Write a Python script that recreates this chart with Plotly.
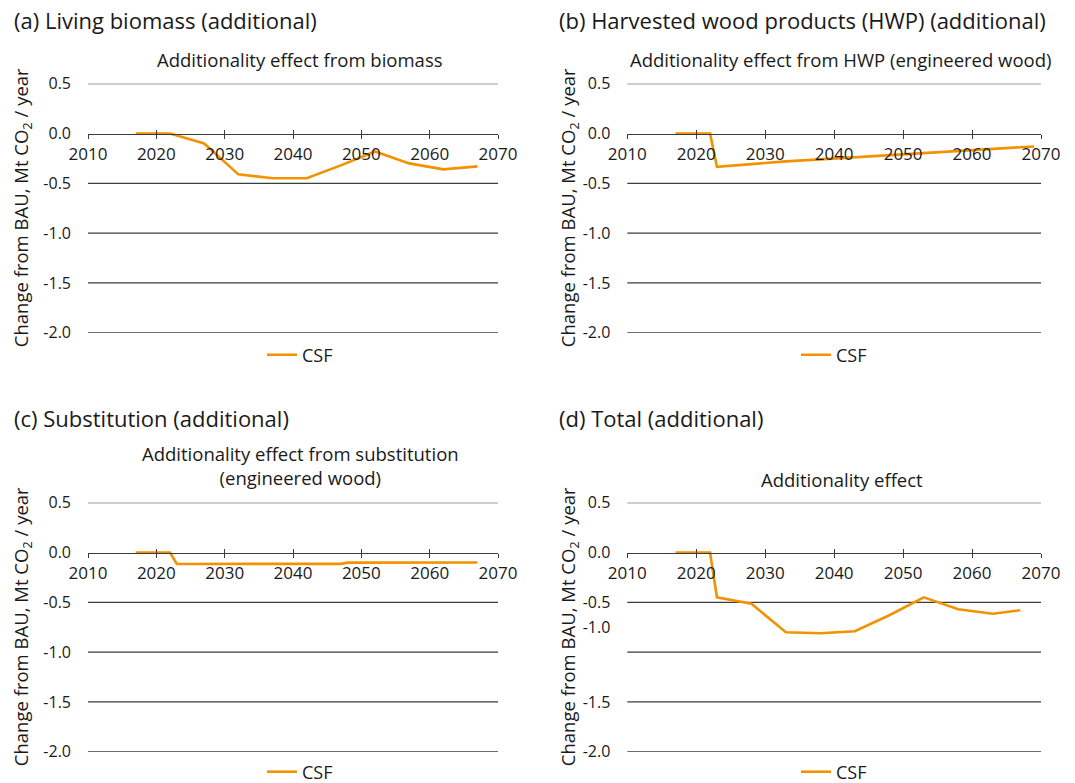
import plotly.graph_objects as go

W, H = 1075, 783

# ---------------- data ----------------
years_a = [2017, 2022, 2027, 2032, 2037, 2042, 2047, 2052, 2057, 2062, 2067]
vals_a = [0.0, 0.0, -0.10, -0.41, -0.45, -0.45, -0.32, -0.18, -0.30, -0.36, -0.33]

years_b = [2017, 2022, 2023, 2028, 2033, 2038, 2043, 2048, 2053, 2058, 2063, 2069]
vals_b = [0.0, 0.0, -0.335, -0.305, -0.28, -0.26, -0.24, -0.22, -0.195, -0.175, -0.155, -0.13]

years_c = [2017, 2022, 2023, 2028, 2033, 2038, 2043, 2047, 2048, 2053, 2058, 2063, 2067]
vals_c = [0.0, 0.0, -0.115, -0.115, -0.115, -0.115, -0.115, -0.114, -0.102, -0.10, -0.10, -0.10, -0.10]

years_d = [2017, 2022, 2023, 2028, 2033, 2038, 2043, 2048, 2053, 2058, 2063, 2067]
vals_d = [0.0, 0.0, -0.45, -0.515, -0.80, -0.81, -0.79, -0.63, -0.45, -0.57, -0.615, -0.58]

x_ticks = [2010, 2020, 2030, 2040, 2050, 2060, 2070]
grid_vals = [0.5, 0.0, -0.5, -1.0, -1.5, -2.0]
y_tick_vals = [0.5, 0.0, -0.5, -1.0, -1.5, -2.0]
y_tick_text = ["0.5", "0.0", "-0.5", "-1.0", "-1.5", "-2.0"]
# panel (d) of the source shows its "-1.0" label half-way between gridlines
y_tick_vals_d = [0.5, 0.0, -0.5, -0.75, -1.5, -2.0]

panel_labels = ["(a) Living biomass (additional)",
                "(b) Harvested wood products (HWP) (additional)",
                "(c) Substitution (additional)",
                "(d) Total (additional)"]
panel_titles = ["Additionality effect from biomass",
                "Additionality effect from HWP (engineered wood)",
                "Additionality effect from substitution<br>(engineered wood)",
                "Additionality effect"]
series_name = "CSF"
y_title = "Change from BAU, Mt CO<sub>2</sub> / year"

# ---------------- style / layout ----------------
FONT = "'Open Sans', Lato, sans-serif"
TXT = "#1a1a1a"
ORANGE = "#F39200"
GRID = "#3c3c3c"
YR = [-2.0, 0.5]
XR = [2010, 2070]

xdoms = [[88 / W, 498 / W], [627.3 / W, 1041 / W]] * 2
ydoms = [[1 - 332.7 / H, 1 - 83.7 / H]] * 2 + [[1 - 751.7 / H, 1 - 502.7 / H]] * 2

data_x = [years_a, years_b, years_c, years_d]
data_y = [vals_a, vals_b, vals_c, vals_d]

label_pos = [(12, 20), (557, 20), (12, 418), (557, 418)]
title_pos = [(300, 60), (841, 60), (300, 466), (842, 479)]
ytitle_x = [22, 569, 22, 569]
legend_pos = [(300, 355), (834, 355), (300, 772), (834, 772)]

fig = go.Figure()
layout = dict(
    width=W, height=H,
    margin=dict(l=0, r=0, t=0, b=0, autoexpand=False),
    paper_bgcolor="white", plot_bgcolor="white",
    font=dict(family=FONT, color=TXT, size=16),
    showlegend=True,
)
annotations = []
shapes = []

for i in range(4):
    k = i + 1
    sfx = "" if k == 1 else str(k)
    ov = str(k + 4)
    zero_pos = ydoms[i][0] + (0 - YR[0]) / (YR[1] - YR[0]) * (ydoms[i][1] - ydoms[i][0])

    fig.add_trace(go.Scatter(
        x=data_x[i], y=data_y[i], mode="lines", name=series_name,
        line=dict(color=ORANGE, width=2.6),
        xaxis="x" + sfx, yaxis="y" + sfx,
        legend="legend" + sfx, showlegend=True,
    ))
    # dummy trace for the overlay axis carrying the inward half of the ticks
    fig.add_trace(go.Scatter(
        x=[None], y=[None], mode="lines", showlegend=False, hoverinfo="skip",
        xaxis="x" + ov, yaxis="y" + sfx,
    ))

    layout["xaxis" + sfx] = dict(
        domain=xdoms[i], range=XR, anchor="free", position=zero_pos,
        tickmode="array", tickvals=x_ticks,
        showline=True, linecolor=GRID, linewidth=1,
        ticks="outside", ticklen=4, tickcolor=GRID, tickwidth=1,
        showgrid=False, zeroline=False,
        tickfont=dict(size=17, color=TXT), ticklabelstandoff=1,
        fixedrange=True,
    )
    layout["xaxis" + ov] = dict(
        overlaying="x" + sfx, range=XR, anchor="free", position=zero_pos,
        tickmode="array", tickvals=x_ticks,
        showline=False, ticks="inside", ticklen=4, tickcolor=GRID, tickwidth=1,
        showticklabels=False, showgrid=False, zeroline=False, fixedrange=True,
    )
    layout["yaxis" + sfx] = dict(
        domain=ydoms[i], range=YR, anchor="x" + sfx,
        tickmode="array",
        tickvals=y_tick_vals_d if k == 4 else y_tick_vals,
        ticktext=y_tick_text,
        showgrid=False, zeroline=False, showline=False, ticks="",
        tickfont=dict(size=16, color=TXT), ticklabelstandoff=16,
        fixedrange=True,
    )
    for g in grid_vals:
        if g == 0.0:
            continue
        shapes.append(dict(
            type="line", layer="below",
            xref="x" + sfx + " domain", x0=0, x1=1,
            yref="y" + sfx, y0=g, y1=g,
            line=dict(color=GRID, width=1.2),
        ))

    lx, ly = label_pos[i]
    annotations.append(dict(
        text=panel_labels[i], x=lx / W, y=1 - ly / H, xref="paper", yref="paper",
        xanchor="left", yanchor="middle", showarrow=False,
        font=dict(size=22, color=TXT),
    ))
    tx, ty = title_pos[i]
    annotations.append(dict(
        text=panel_titles[i], x=tx / W, y=1 - ty / H, xref="paper", yref="paper",
        xanchor="center", yanchor="middle", showarrow=False,
        font=dict(size=18.5, color=TXT),
    ))
    annotations.append(dict(
        text=y_title, x=ytitle_x[i] / W, y=(ydoms[i][0] + ydoms[i][1]) / 2,
        xref="paper", yref="paper", xanchor="center", yanchor="middle",
        textangle=-90, showarrow=False, font=dict(size=18.5, color=TXT),
    ))
    gx, gy = legend_pos[i]
    layout["legend" + sfx] = dict(
        x=gx / W, y=1 - gy / H, xanchor="center", yanchor="middle",
        orientation="h", bgcolor="rgba(0,0,0,0)",
        font=dict(size=18, color=TXT), itemwidth=30,
    )

layout["annotations"] = annotations
layout["shapes"] = shapes
fig.update_layout(**layout)

fig.write_html("out.html")
